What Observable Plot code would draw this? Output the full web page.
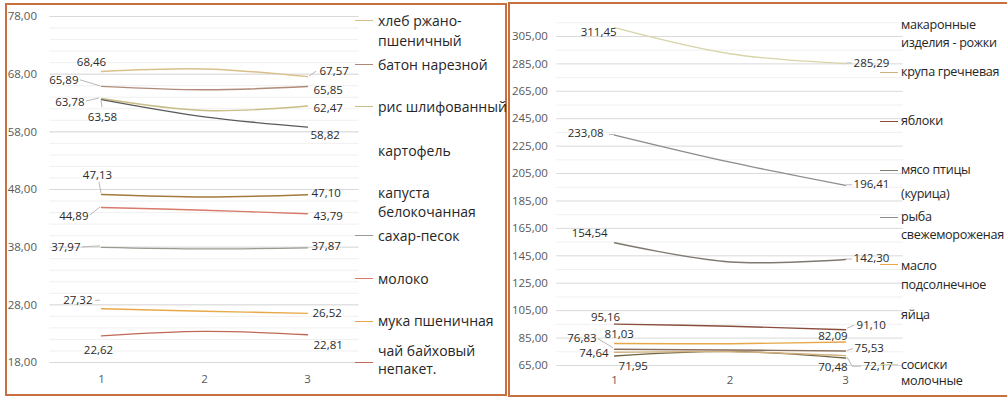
<!DOCTYPE html>
<html><head><meta charset="utf-8">
<script src="https://cdn.jsdelivr.net/npm/d3@7"></script>
<script src="https://cdn.jsdelivr.net/npm/@observablehq/plot@0.6"></script>
<style>
body{margin:0;background:#fff;}
#root{position:relative;width:1007px;height:397px;overflow:hidden;font-family:"Open Sans",sans-serif;}
.frame{position:absolute;border:2px solid #c8703f;box-sizing:border-box;}
.panel{position:absolute;}
.lg{position:absolute;white-space:nowrap;color:#262626;line-height:1;}
.sw{position:absolute;height:0;border-top:1.5px solid;}
</style></head>
<body><div id="root"></div>
<script>
// ---------- data ----------
const periods = [1, 2, 3];

const leftNames = ["хлеб ржано-\nпшеничный", "батон  нарезной", "рис шлифованный", "картофель", "капуста\nбелокочанная", "сахар-песок", "молоко", "мука пшеничная", "чай байховый\nнепакет."];
const leftP1 = [68.46, 65.89, 63.78, 63.58, 47.13, 37.97, 44.89, 27.32, 22.62];
const leftP2 = [68.9, 65.3, 61.7, 60.6, 46.7, 37.7, 44.4, 26.9, 23.4];
const leftP3 = [67.57, 65.85, 62.47, 58.82, 47.10, 37.87, 43.79, 26.52, 22.81];
const leftYTicks = [18, 28, 38, 48, 58, 68, 78];

const rightNames = ["макаронные\nизделия - рожки", "крупа гречневая", "яблоки", "мясо птицы\n(курица)", "рыба\nсвежемороженая", "масло\nподсолнечное", "яйца", "сосиски\nмолочные"];
const rightP1 = [71.95, 74.64, 95.16, 154.54, 233.08, 81.03, 76.83, 311.45];
const rightP2 = [75.3, 75.0, 93.6, 140.5, 213.3, 80.9, 76.3, 292.4];
const rightP3 = [70.48, 72.17, 91.10, 142.30, 196.41, 82.09, 75.53, 285.29];
const rightYTicks = [65, 85, 105, 125, 145, 165, 185, 205, 225, 245, 265, 285, 305];

// ---------- styles / layout ----------
const leftColors = ["#d9bf8a", "#b08a78", "#c9bd86", "#5a5a5a", "#a27a3c", "#9a9a90", "#d87a6a", "#e8a84a", "#c06858"];
const leftSwatch = [true, true, true, false, false, true, true, true, true];
const rightColors = ["#6e6440", "#d0b080", "#8a4e3c", "#7f7a70", "#8c8c8c", "#e6a848", "#8a6e58", "#d8d4a8"];
const rightSwatch = [false, true, true, true, true, true, false, true];

// label offsets [dx, dy, anchor] at period 1 and 3
const leftOff1 = [[-10,-9,"middle"],[-23,-6,"end"],[-17,4,"end"],[1,18,"middle"],[-4,-19,"middle"],[-21,0,"end"],[-13,9,"end"],[-9,-8,"end"],[-3,14,"middle"]];
const leftOff3 = [[12,-5,"start"],[6,4,"start"],[6,2,"start"],[3,8,"start"],[4,-1,"start"],[4,-2,"start"],[6,3,"start"],[5,0,"start"],[6,11,"start"]];
const rightOff1 = [[4,10,"start"],[-6,1,"end"],[-9,-7,"middle"],[-7,-9,"end"],[-11,-2,"end"],[-10,-9,"start"],[-18,-11,"end"],[2,5,"end"]];
const rightOff3 = [[2,9,"end"],[18,11,"start"],[11,-4,"start"],[8,-1,"start"],[8,-1,"start"],[2,-6,"end"],[9,-3,"start"],[8,0,"start"]];

// leader polylines: [seriesIndex, period, [[dx,dy],...]]
const leftLeaders = [[1,1,[[-21,-6],[-1,0]]],[2,1,[[-15,3],[-2,0]]],[3,1,[[0,1],[1,8]]],[4,1,[[-2,-12],[0,-1]]],[5,1,[[-19,0],[-1,-1]]],[6,1,[[-11,8],[-1,0]]],[7,1,[[-6,-8],[-1,-8]]],[0,3,[[2,0],[9,-5]]]];
const rightLeaders = [[4,1,[[-5,0],[0,0]]],[6,1,[[-16,-10],[-1,-1]]],[7,3,[[1,0],[7,0]]],[4,3,[[1,0],[7,0]]],[3,3,[[1,0],[7,0]]],[2,3,[[2,-1],[9,-4]]],[6,3,[[2,0],[8,-2]]],[1,3,[[2,2],[7,11],[16,11]]]];

const fmt = v => v.toFixed(2).replace(".", ",");

function makePanel(cfg) {
  const vals = [cfg.p1, cfg.p2, cfg.p3];
  const rows = cfg.names.flatMap((n, i) => periods.map((p, j) => ({name: n, x: p, y: vals[j][i]})));
  const labelMarks = [];
  cfg.names.forEach((n, i) => {
    [[1, cfg.p1, cfg.off1], [3, cfg.p3, cfg.off3]].forEach(([p, arr, off]) => {
      const [dx, dy, anchor] = off[i];
      labelMarks.push(Plot.text([{x: p, y: arr[i]}], {x: "x", y: "y", text: d => fmt(d.y), dx, dy, textAnchor: anchor, lineAnchor: "middle", fill: "#2b2b2b", fontSize: 11.5}));
    });
  });
  const leaders = (index, scales) => {
    const g = d3.create("svg:g").attr("fill", "none").attr("stroke", "#b8b8b8").attr("stroke-width", 1);
    cfg.leaders.forEach(([i, p, pts]) => {
      const v = (p === 1 ? cfg.p1 : cfg.p3)[i];
      const px = scales.x(p), py = scales.y(v);
      g.append("polyline").attr("points", pts.map(([a, b]) => `${px + a},${py + b}`).join(" "));
    });
    return g.node();
  };
  return Plot.plot({
    width: cfg.width, height: cfg.height,
    marginLeft: cfg.ml, marginRight: cfg.mr, marginTop: cfg.mt, marginBottom: cfg.mb,
    style: {fontFamily: "'Open Sans', sans-serif", fontSize: "11.5px", color: "#595959", background: "transparent"},
    x: {domain: [0.5, 3.5], ticks: periods, tickFormat: d => String(d), tickSize: 0, tickPadding: cfg.xpad, label: null},
    y: {domain: cfg.yDomain, ticks: cfg.yTicks, tickFormat: fmt, tickSize: 0, tickPadding: cfg.ypad, label: null},
    color: {domain: cfg.names, range: cfg.colors},
    marks: [
      Plot.ruleY(cfg.minor, {stroke: "#f0f0f0", strokeWidth: 1}),
      Plot.ruleY(cfg.yTicks, {stroke: "#d9d9d9", strokeWidth: 1}),
      Plot.line(rows, {x: "x", y: "y", z: "name", stroke: "name", strokeWidth: 1.4, curve: "catmull-rom"}),
      leaders,
      ...labelMarks
    ]
  });
}

function addLegend(root, names, colors, show, cfg) {
  names.forEach((n, i) => {
    const lines = n.split("\n");
    lines.forEach((t, k) => {
      const d = document.createElement("div");
      d.className = "lg";
      d.textContent = t;
      d.style.left = cfg.textX + "px";
      d.style.top = (cfg.ys[i][k] - cfg.fs / 2) + "px";
      d.style.fontSize = cfg.fs + "px";
      d.style.letterSpacing = cfg.ls + "px";
      root.appendChild(d);
    });
    if (show[i]) {
      const s = document.createElement("div");
      s.className = "sw";
      s.style.left = cfg.swX + "px";
      s.style.width = cfg.swW + "px";
      s.style.top = cfg.swY[i] + "px";
      s.style.borderTopColor = colors[i];
      root.appendChild(s);
    }
  });
}

const root = document.getElementById("root");

// frames
[[5, 3, 502, 393], [508, 2, 510, 395]].forEach(([l, t, w, h]) => {
  const f = document.createElement("div");
  f.className = "frame";
  Object.assign(f.style, {left: l + "px", top: t + "px", width: w + "px", height: h + "px"});
  root.appendChild(f);
});

const leftPlot = makePanel({
  names: leftNames, p1: leftP1, p2: leftP2, p3: leftP3, colors: leftColors,
  yDomain: [18, 78], yTicks: leftYTicks, minor: d3.range(18, 78.1, 2),
  off1: leftOff1, off3: leftOff3, leaders: leftLeaders,
  width: 500, height: 390, ml: 43.5, mr: 147.5, mt: 12, mb: 32, xpad: 12, ypad: 13
});
leftPlot.classList.add("panel");
Object.assign(leftPlot.style, {left: "6px", top: "4px"});
root.appendChild(leftPlot);

const rightPlot = makePanel({
  names: rightNames, p1: rightP1, p2: rightP2, p3: rightP3, colors: rightColors,
  yDomain: [65, 315], yTicks: rightYTicks, minor: d3.range(75, 316, 20),
  off1: rightOff1, off3: rightOff3, leaders: rightLeaders,
  width: 496, height: 391, ml: 47.3, mr: 102.2, mt: 18.25, mb: 30, xpad: 10, ypad: 9
});
rightPlot.classList.add("panel");
Object.assign(rightPlot.style, {left: "509px", top: "4px"});
root.appendChild(rightPlot);

addLegend(root, leftNames, leftColors, leftSwatch, {
  textX: 378, swX: 355, swW: 18, fs: 14, ls: 0,
  ys: [[21, 41], [65], [107], [151], [193, 212], [236], [279], [321], [351, 369]],
  swY: [20, 64, 106, 150, 192, 235, 278, 321, 362]
});
addLegend(root, rightNames, rightColors, rightSwatch, {
  textX: 901, swX: 880, swW: 18, fs: 12.6, ls: -0.3,
  ys: [[25, 43], [72], [121], [170, 194], [217, 235], [266, 285], [315], [365, 381]],
  swY: [25, 72, 121, 170, 217, 264, 315, 364]
});
</script>
</body></html>
